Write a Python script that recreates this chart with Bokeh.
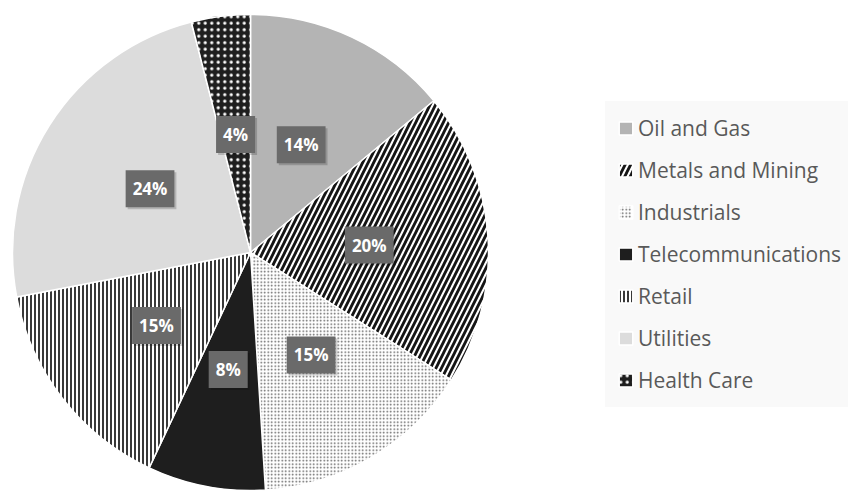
import math
from bokeh.plotting import figure
from bokeh.models import ColumnDataSource, Range1d
from bokeh.core.properties import value
from bokeh.embed import file_html
from bokeh.resources import INLINE

sectors = ["Oil and Gas", "Metals and Mining", "Industrials", "Telecommunications",
           "Retail", "Utilities", "Health Care"]
shares = [14, 20, 15, 8, 15, 24, 4]

fills = ["#b4b4b4", "#ffffff", "#ffffff", "#1e1e1e", "#ffffff", "#dcdcdc", "#1e1e1e"]
hatches = [" ", "/", ".", " ", "|", " ", "."]
hatch_colors = ["#000000", "#151515", "#5e5e5e", "#000000", "#222222", "#000000", "#ffffff"]
hatch_scales = [8, 11, 3.5, 8, 4, 8, 6.5]
hatch_weights = [1, 2.8, 1.9, 1, 1.8, 1, 1.8]

W, H = 848, 491
CX, CY, R = 250, 239, 238

total = float(sum(shares))
starts, ends, lx, ly, labels = [], [], [], [], []
cum = 0.0
for v in shares:
    a0 = math.pi / 2 - 2 * math.pi * cum / total
    cum += v
    a1 = math.pi / 2 - 2 * math.pi * cum / total
    starts.append(a0)
    ends.append(a1)
    mid = (a0 + a1) / 2
    lx.append(CX + 0.5 * R * math.cos(mid))
    ly.append(CY + 0.5 * R * math.sin(mid))
    labels.append(f"{v}%")

src = ColumnDataSource(dict(
    sector=sectors, share=shares, start=starts, end=ends,
    fill=fills, hatch=hatches, hcol=hatch_colors, hscale=hatch_scales, hweight=hatch_weights,
    lx=lx, ly=ly, label=labels,
))

p = figure(width=W, height=H, output_backend="svg", toolbar_location=None,
           x_range=Range1d(0, W), y_range=Range1d(0, H), min_border=0)
p.axis.visible = False
p.grid.visible = False
p.outline_line_color = None

r = p.wedge(x=CX, y=CY, radius=R, start_angle="start", end_angle="end", direction="clock",
            source=src, fill_color="fill", line_color="white", line_width=1.5,
            hatch_pattern="hatch", hatch_color="hcol", hatch_scale="hscale",
            hatch_weight="hweight", legend_field="sector")

# soft shadow behind the data labels
p.text(x="lx", y="ly", text="label", source=src, text_align="center",
       text_baseline="middle", text_alpha=0, text_font_style="bold",
       text_font=value("Open Sans"), text_font_size="17px",
       background_fill_color="black", background_fill_alpha=0.18,
       padding=7, x_offset=2, y_offset=2)
p.text(x="lx", y="ly", text="label", source=src, text_align="center",
       text_baseline="middle", text_color="white", text_font_style="bold",
       text_font=value("Open Sans"), text_font_size="17px",
       background_fill_color="#6a6a6a", padding=7)

lg = p.legend[0]
lg.location = (605, 84)
lg.background_fill_color = "#f9f9f9"
lg.background_fill_alpha = 1.0
lg.border_line_alpha = 0
lg.padding = 12
lg.spacing = 12
lg.glyph_width = 17
lg.glyph_height = 16
lg.label_height = 30
lg.label_standoff = 4
lg.label_text_font = "Open Sans"
lg.label_text_font_size = "21px"
lg.label_text_color = "#595959"
lg.margin = 0

open("out.html", "w").write(file_html(p, INLINE))
